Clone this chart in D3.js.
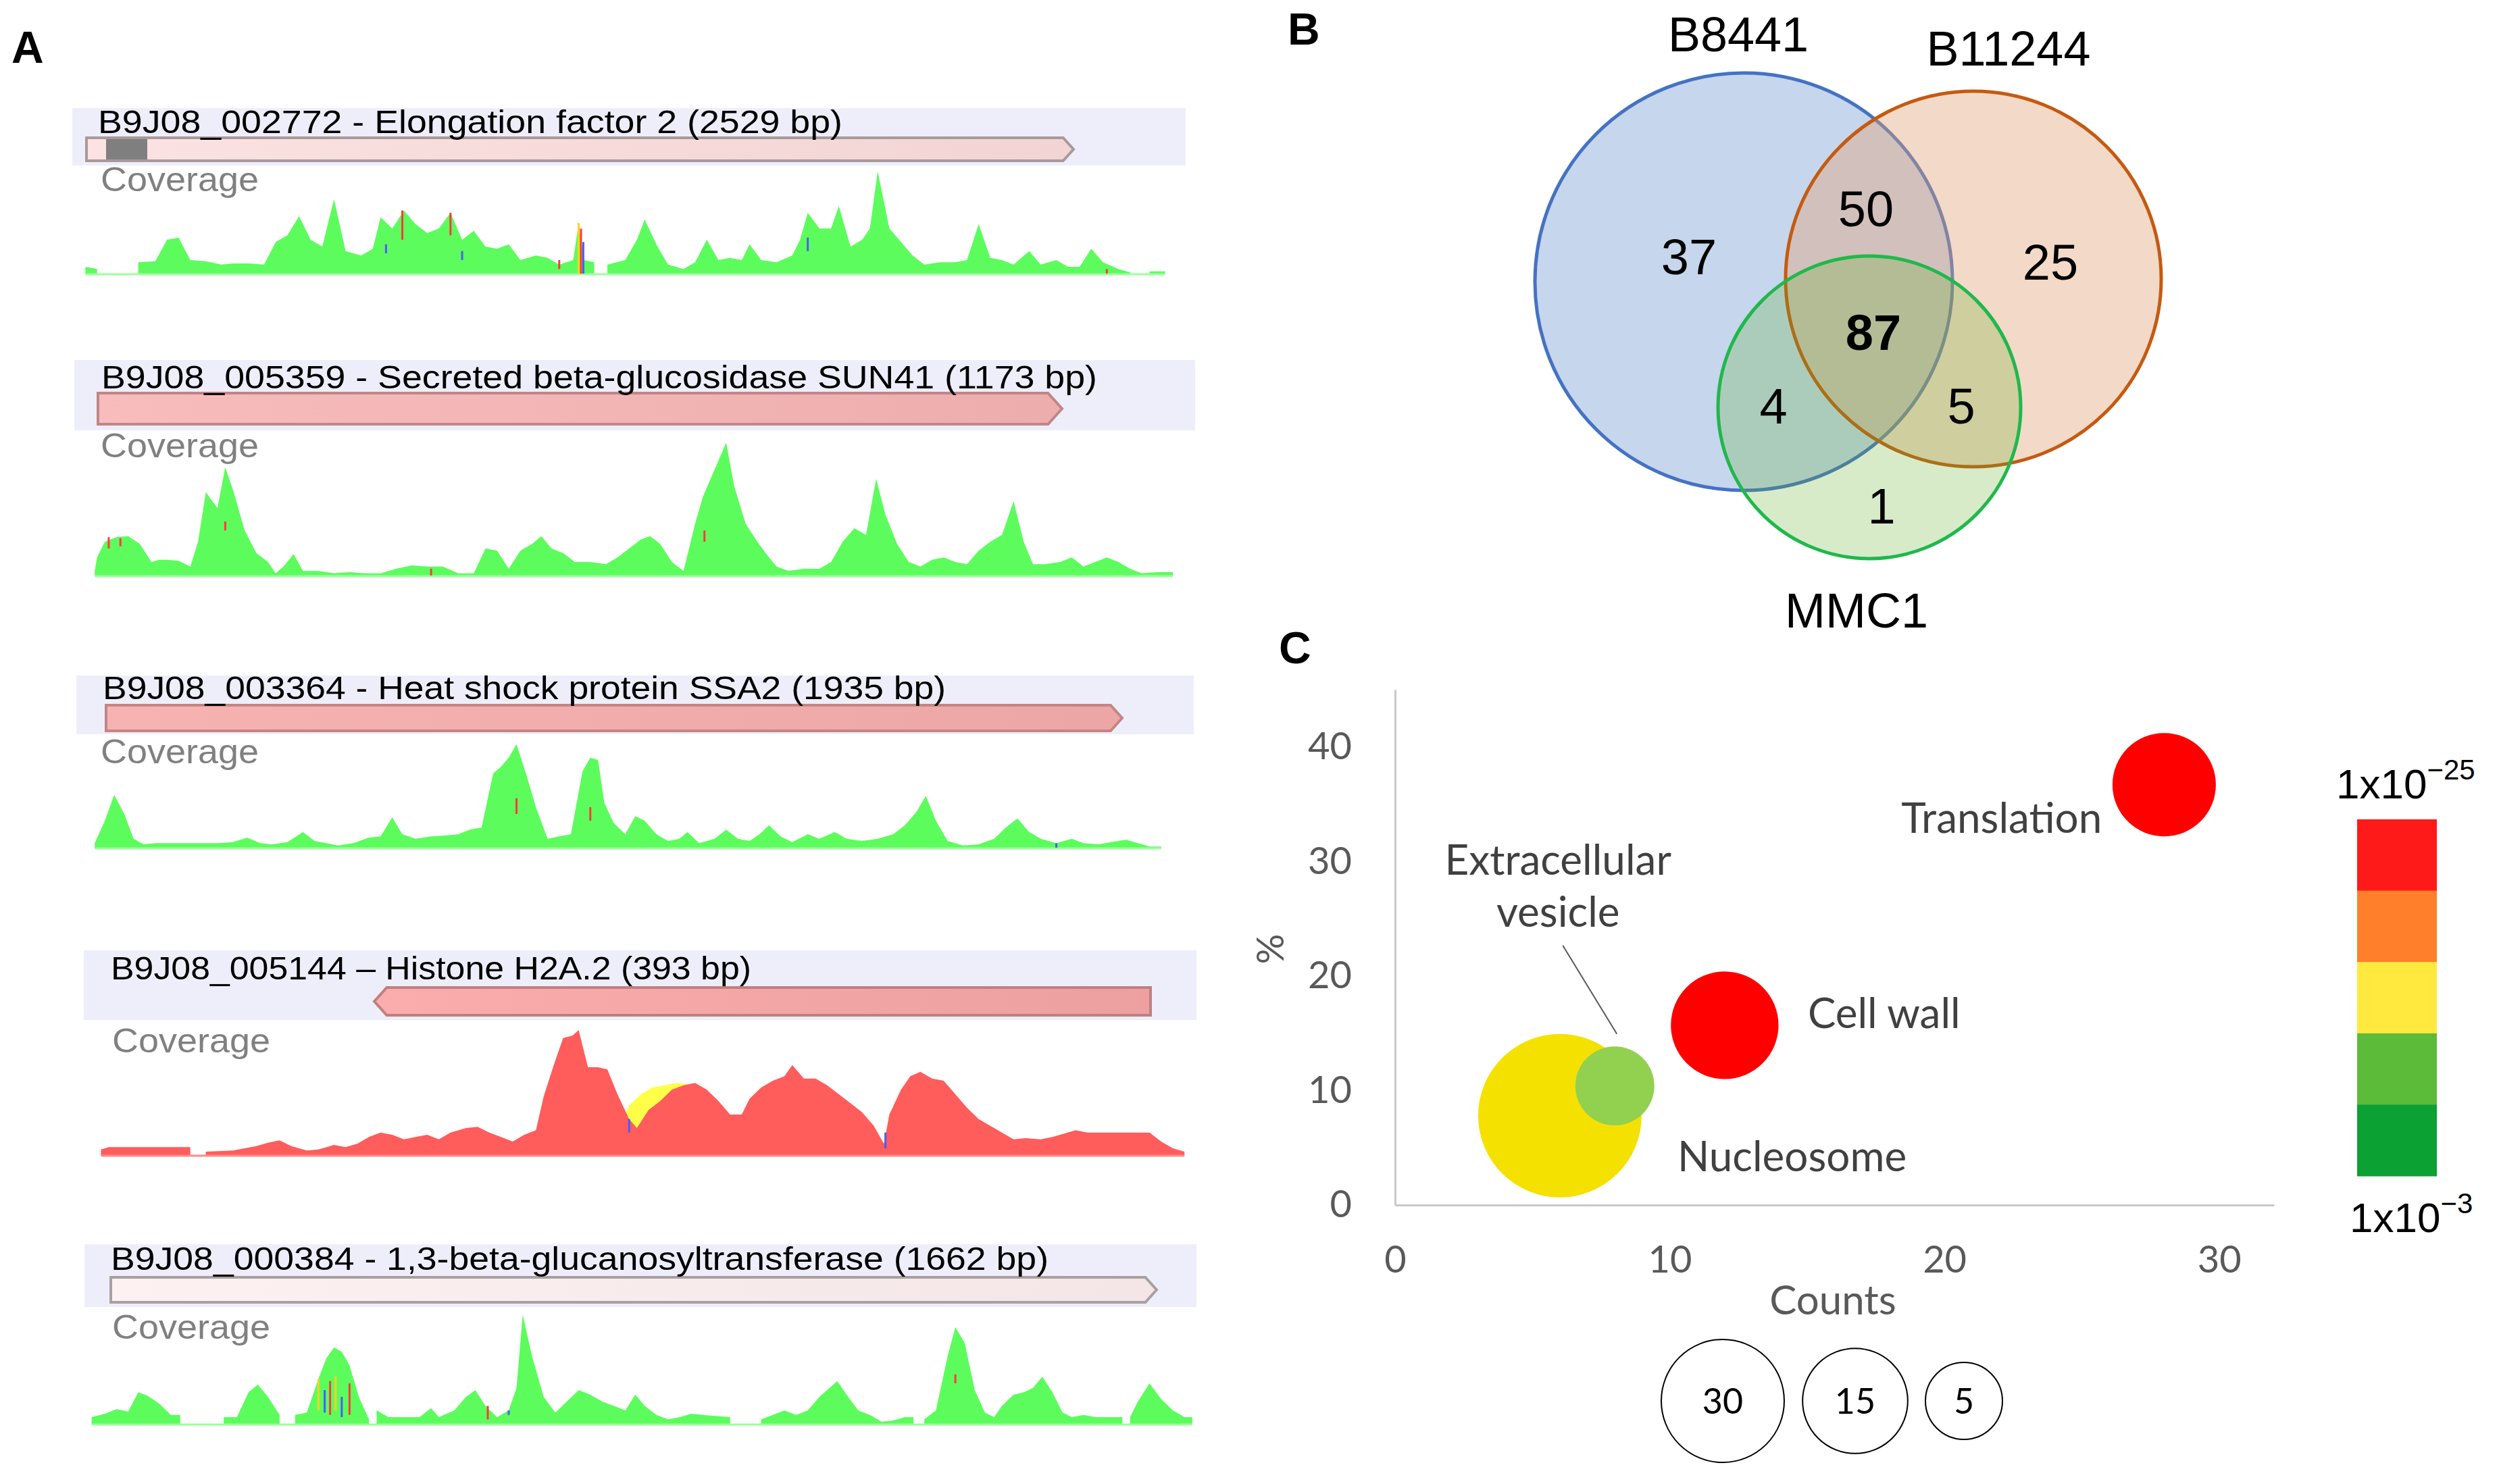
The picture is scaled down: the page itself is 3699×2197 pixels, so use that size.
<!DOCTYPE html>
<html>
<head>
<meta charset="utf-8">
<script src="https://cdn.jsdelivr.net/npm/d3@7"></script>
<style>
  body { margin: 0; background: #fff; }
  svg { display: block; }
</style>
</head>
<body>
<svg id="fig" width="3699" height="2197"></svg>
<script>
// ---------- data : panel A (coverage, [position, depth]) ----------
var geneTitles = [
  'B9J08_002772 - Elongation factor 2 (2529 bp)',
  'B9J08_005359 - Secreted beta-glucosidase SUN41 (1173 bp)',
  'B9J08_003364 - Heat shock protein SSA2 (1935 bp)',
  'B9J08_005144 \u2013 Histone H2A.2 (393 bp)',
  'B9J08_000384 - 1,3-beta-glucanosyltransferase (1662 bp)'
];
var geneStrand = ['+', '+', '+', '-', '+'];

var cov1 = [[110,30],[125,20],[135,null],[178,50],[200,55],[215,150],[230,160],[245,60],[265,55],[285,40],[300,45],[320,45],[340,40],[355,140],[370,170],[385,255],[400,150],[415,120],[430,330],[445,100],[465,80],[480,110],[490,250],[505,200],[520,280],[535,220],[550,180],[565,200],[580,270],[595,150],[610,190],[625,120],[640,110],[655,130],[670,60],[690,80],[705,70],[720,40],[738,60],[745,225],[752,60],[765,50],[772,null],[782,40],[805,60],[820,150],[830,240],[845,130],[860,40],[880,20],[895,50],[910,150],[925,60],[940,70],[955,60],[965,130],[980,60],[1000,50],[1020,80],[1030,150],[1040,270],[1055,200],[1070,200],[1080,300],[1095,120],[1110,150],[1120,200],[1130,455],[1145,200],[1160,140],[1175,80],[1190,40],[1210,50],[1230,50],[1245,60],[1260,220],[1275,70],[1290,60],[1305,40],[1325,100],[1340,40],[1360,60],[1375,30],[1390,30],[1405,110],[1420,50],[1440,20],[1455,5],[1470,null],[1480,10],[1500,10]];

var cov2 = [[122,20],[125,80],[135,150],[150,170],[165,175],[180,140],[195,60],[205,70],[215,70],[230,65],[245,40],[255,150],[265,370],[280,300],[290,480],[300,380],[315,200],[330,100],[345,60],[355,10],[365,40],[378,95],[390,20],[410,20],[430,10],[450,15],[470,10],[490,10],[510,30],[530,45],[550,40],[570,40],[590,10],[610,10],[625,120],[640,110],[655,30],[670,110],[685,140],[697,175],[710,120],[725,100],[740,60],[760,60],[780,50],[795,80],[810,120],[825,160],[837,175],[850,140],[865,60],[880,20],[895,230],[905,350],[920,470],[935,590],[945,400],[960,230],[975,150],[990,80],[1000,40],[1015,20],[1035,30],[1055,30],[1070,60],[1085,150],[1100,210],[1115,180],[1128,430],[1140,270],[1155,140],[1170,60],[1185,40],[1200,70],[1215,80],[1230,60],[1245,50],[1260,110],[1275,150],[1290,180],[1305,330],[1318,150],[1330,50],[1345,50],[1365,60],[1380,80],[1395,40],[1410,60],[1425,80],[1440,60],[1455,30],[1470,10],[1490,15],[1510,15]];

var cov3 = [[122,20],[135,120],[147,235],[160,150],[172,40],[185,15],[200,20],[220,20],[240,20],[260,20],[280,20],[300,25],[318,45],[335,20],[350,15],[370,25],[390,70],[405,30],[420,20],[435,10],[455,20],[475,45],[490,50],[505,135],[518,60],[535,40],[555,50],[575,55],[590,60],[605,80],[620,90],[635,330],[645,360],[655,400],[665,460],[678,320],[690,180],[705,40],[720,50],[735,60],[750,340],[760,400],[770,390],[778,200],[790,110],[805,60],[818,140],[830,120],[845,60],[860,30],[875,40],[885,70],[900,20],[920,40],[935,80],[950,40],[965,30],[978,60],[990,100],[1005,50],[1020,25],[1040,60],[1055,40],[1075,70],[1090,40],[1110,30],[1130,40],[1150,60],[1165,100],[1180,160],[1192,230],[1205,120],[1220,30],[1240,10],[1260,15],[1280,40],[1295,90],[1310,130],[1325,70],[1340,40],[1360,20],[1380,40],[1395,20],[1415,15],[1430,25],[1450,35],[1465,20],[1480,5],[1495,5]];

var cov4 = [[130,25],[140,35],[160,35],[200,35],[245,35],[252,null],[265,15],[300,20],[330,40],[345,55],[360,65],[375,40],[395,20],[410,25],[430,45],[445,35],[460,50],[475,80],[490,100],[505,90],[520,70],[535,80],[550,90],[565,70],[580,100],[600,120],[615,125],[630,100],[645,80],[660,60],[675,90],[690,110],[700,260],[712,390],[725,520],[737,530],[745,555],[757,390],[770,390],[782,380],[795,270],[810,160],[820,120],[835,200],[850,240],[865,290],[880,310],[895,320],[910,290],[925,240],[940,180],[955,180],[965,250],[980,300],[995,330],[1010,350],[1020,400],[1035,340],[1050,340],[1065,310],[1080,270],[1095,230],[1110,190],[1125,130],[1138,50],[1145,180],[1160,290],[1172,350],[1185,370],[1200,340],[1215,330],[1230,270],[1245,210],[1260,160],[1275,130],[1290,100],[1305,70],[1320,75],[1340,70],[1355,80],[1370,95],[1385,110],[1400,100],[1420,100],[1440,100],[1460,100],[1480,100],[1495,60],[1510,30],[1525,15]];
var cov4Alt = [[800,150],[810,220],[825,270],[840,300],[855,310],[870,320],[885,315],[895,300]];

var cov5 = [[118,30],[135,45],[150,65],[165,55],[178,140],[190,125],[205,90],[220,40],[232,40],[236,null],[288,30],[305,30],[320,140],[332,175],[345,120],[360,40],[366,null],[380,40],[395,50],[410,200],[420,290],[430,340],[440,320],[450,260],[462,120],[475,20],[478,null],[485,60],[500,30],[520,30],[540,30],[555,70],[565,30],[585,60],[600,120],[612,150],[625,80],[640,30],[655,60],[665,160],[673,485],[685,300],[700,120],[715,50],[730,100],[745,150],[760,130],[775,100],[790,80],[805,60],[818,130],[830,80],[845,40],[860,20],[875,30],[890,45],[905,40],[940,30],[944,null],[980,20],[995,40],[1010,60],[1025,40],[1040,60],[1055,120],[1068,160],[1078,190],[1092,120],[1105,60],[1120,40],[1135,10],[1150,15],[1165,30],[1176,30],[1180,null],[1190,20],[1205,60],[1220,300],[1230,430],[1242,360],[1255,150],[1268,50],[1280,30],[1290,80],[1305,130],[1318,140],[1330,160],[1342,210],[1355,140],[1368,50],[1380,30],[1395,40],[1410,30],[1445,30],[1448,null],[1455,30],[1465,100],[1480,180],[1495,110],[1510,60],[1525,30],[1535,30]];

// mismatches: [track, position, depth from, depth to, base colour]
var mismatches = [
  [0,745,0,225,'#ffd21f'],[0,748,0,200,'#ff3b3b'],[0,751,0,140,'#4a5cff'],[0,518,150,280,'#ff3b3b'],
  [0,580,170,270,'#ff3b3b'],[0,497,90,130,'#4a5cff'],[0,595,60,100,'#4a5cff'],[0,720,20,60,'#ff3b3b'],
  [0,1040,100,160,'#4a5cff'],[0,1425,0,20,'#ff3b3b'],
  [1,140,120,170,'#ff3b3b'],[1,155,130,165,'#ff3b3b'],[1,290,200,240,'#ff3b3b'],[1,555,0,30,'#ff3b3b'],[1,907,150,200,'#ff3b3b'],
  [2,665,150,220,'#ff3b3b'],[2,760,120,180,'#ff3b3b'],[2,1360,0,20,'#4a5cff'],
  [3,1140,30,100,'#4a5cff'],[3,810,100,160,'#4a5cff'],
  [4,410,60,200,'#ffd21f'],[4,418,50,150,'#4a5cff'],[4,425,40,190,'#ff3b3b'],[4,432,60,210,'#ffd21f'],
  [4,440,30,120,'#4a5cff'],[4,450,40,180,'#ff3b3b'],[4,628,20,80,'#ff3b3b'],[4,655,40,60,'#4a5cff'],[4,1230,180,220,'#ff3b3b']
];

// ---------- data : panel B ----------
var vennSets = ['B8441', 'B11244', 'MMC1'];
var vennRegions = ['37', '50', '25', '87', '4', '5', '1'];

// ---------- data : panel C ----------
var termNames = ['Translation', 'Cell wall', 'Nucleosome', 'Extracellular vesicle'];
var termCounts = [28, 12, 6, 8];
var termPercent = [36.7, 15.7, 7.8, 10.4];
var termSize = [12, 13, 30, 7];
var termColors = ['#ff0000', '#ff0000', '#f5e100', '#92d050'];
var xTicks = [0, 10, 20, 30];
var yTicks = [0, 10, 20, 30, 40];
var sizeLegend = [30, 15, 5];
var pvalColors = ['#ff1a1a', '#ff7f2a', '#ffe93f', '#5cbb38', '#0ba133'];
var pvalLabels = [['1x10', '\u221225'], ['1x10', '\u22123']];

// ---------- layout ----------
var W = 3699, H = 2197;
var ARIAL = '"Liberation Sans", Arial, sans-serif';
var CALI = 'Lato, "Open Sans", sans-serif';
var covs = [cov1, cov2, cov3, cov4, cov5];

var tracks = [
  {band:[107,160,1755,245], tx:145, ty:197, tw:1102, a:[128,1589,204,238], fill:['#fce2e2','#f2d4d4'], stroke:'#a89a9a', box:[157,218], cy:283, cx:149, base:405, cov:'#5dfc5d'},
  {band:[110,533,1769,637], tx:150, ty:575, tw:1474, a:[145,1572,582,628], fill:['#f8bcbc','#eeadad'], stroke:'#c08686', cy:677, cx:149, base:852, cov:'#5dfc5d'},
  {band:[113,1000,1767,1087], tx:152, ty:1035, tw:1248, a:[157,1661,1044,1082], fill:['#f7b2b2','#eca6a6'], stroke:'#c48585', cy:1130, cx:149, base:1255, cov:'#5dfc5d'},
  {band:[124,1407,1771,1510], tx:164, ty:1450, tw:948, a:[554,1703,1462,1503], fill:['#fbacac','#eca0a0'], stroke:'#c07f7f', cy:1558, cx:166, base:1710, cov:'#ff5c5c'},
  {band:[125,1842,1771,1935], tx:164, ty:1880, tw:1388, a:[164,1712,1891,1928], fill:['#fdf1f1','#f4e6e6'], stroke:'#a8a0a0', cy:1982, cx:166, base:2108, cov:'#5dfc5d'}
];

var svg = d3.select('#fig');
var defs = svg.append('defs');
svg.append('rect').attr('width', W).attr('height', H).attr('fill', '#fff');

// panel letters
svg.selectAll('.letter')
  .data([['A',17,93],['B',1906,66],['C',1893,982]])
  .enter().append('text')
  .attr('x', d => d[1]).attr('y', d => d[2])
  .attr('font-family', ARIAL).attr('font-weight', 'bold').attr('font-size', 66)
  .text(d => d[0]);

// ---------- panel A ----------
var posX = d3.scaleLinear().domain([0, 1550]).range([0, 1782]);

tracks.forEach((t, i) => {
  var g = svg.append('g');
  g.append('rect')
    .attr('x', t.band[0]).attr('y', t.band[1])
    .attr('width', t.band[2] - t.band[0]).attr('height', t.band[3] - t.band[1])
    .attr('fill', '#eeeefb');

  var grad = defs.append('linearGradient').attr('id', 'gg' + i);
  grad.append('stop').attr('offset', '0%').attr('stop-color', t.fill[0]);
  grad.append('stop').attr('offset', '100%').attr('stop-color', t.fill[1]);

  var x0 = t.a[0], x1 = t.a[1], y0 = t.a[2], y1 = t.a[3], ym = (y0 + y1) / 2, tip = (y1 - y0) * 0.45;
  var p = d3.path();
  if (geneStrand[i] === '+') {
    p.moveTo(x0, y0); p.lineTo(x1 - tip, y0); p.lineTo(x1, ym); p.lineTo(x1 - tip, y1); p.lineTo(x0, y1);
  } else {
    p.moveTo(x1, y0); p.lineTo(x0 + tip, y0); p.lineTo(x0, ym); p.lineTo(x0 + tip, y1); p.lineTo(x1, y1);
  }
  p.closePath();
  g.append('path').attr('d', p.toString())
    .attr('fill', 'url(#gg' + i + ')').attr('stroke', t.stroke).attr('stroke-width', 4);
  if (t.box) {
    g.append('rect').attr('x', t.box[0]).attr('y', y0 + 2)
      .attr('width', t.box[1] - t.box[0]).attr('height', y1 - y0 - 4).attr('fill', '#7f7f7f');
  }

  g.append('text').attr('x', t.tx).attr('y', t.ty)
    .attr('font-family', ARIAL).attr('font-size', 48)
    .attr('textLength', t.tw).attr('lengthAdjust', 'spacingAndGlyphs')
    .text(geneTitles[i]);
  g.append('text').attr('x', t.cx).attr('y', t.cy)
    .attr('font-family', ARIAL).attr('font-size', 50).attr('fill', '#808080')
    .attr('textLength', 234).attr('lengthAdjust', 'spacingAndGlyphs')
    .text('Coverage');

  var depth = d3.scaleLinear().domain([0, 300]).range([t.base, t.base - 100]);
  var area = d3.area()
    .defined(d => d[1] !== null)
    .x(d => posX(d[0]))
    .y0(t.base)
    .y1(d => depth(d[1]));

  if (i === 3) {
    g.append('path').datum(cov4Alt).attr('d', area).attr('fill', '#ffff4a');
  }
  g.append('path').datum(covs[i]).attr('d', area).attr('fill', t.cov);
  g.append('line')
    .attr('x1', posX(covs[i][0][0])).attr('x2', posX(covs[i][covs[i].length - 1][0]))
    .attr('y1', t.base + 1).attr('y2', t.base + 1)
    .attr('stroke', i === 3 ? '#ff8a8a' : '#9dff9d').attr('stroke-width', 3);

  g.selectAll('.mm')
    .data(mismatches.filter(m => m[0] === i))
    .enter().append('rect')
    .attr('x', m => posX(m[1]) - 1.5).attr('width', 3)
    .attr('y', m => depth(m[3])).attr('height', m => depth(m[2]) - depth(m[3]))
    .attr('fill', m => m[4]);
});

// ---------- panel B : Venn ----------
var vennCircles = [
  {cx:2581, cy:417, r:309, fill:'#c6d6ec', op:1, stroke:'#4472c4'},
  {cx:2921, cy:413, r:278, fill:'#e1a073', op:0.4, stroke:'#c55a11'},
  {cx:2767, cy:603, r:224, fill:'#60b028', op:0.25, stroke:'#1fb84c'}
];
var vg = svg.append('g');
vg.selectAll('.vc')
  .data(vennCircles)
  .enter().append('circle')
  .attr('cx', d => d.cx).attr('cy', d => d.cy).attr('r', d => d.r)
  .attr('fill', d => d.fill).attr('fill-opacity', d => d.op)
  .attr('stroke', d => d.stroke).attr('stroke-width', 5);

var vennLabelPos = [[2573,76],[2973,97],[2748,929]];
vg.selectAll('.vl')
  .data(vennSets)
  .enter().append('text')
  .attr('x', (d, i) => vennLabelPos[i][0]).attr('y', (d, i) => vennLabelPos[i][1])
  .attr('text-anchor', 'middle')
  .attr('font-family', ARIAL).attr('font-size', 72)
  .text(d => d);

var regionPos = [[2500,379],[2762,308],[3035,387],[2773,491],[2625,600],[2903,600],[2785,748]];
vg.selectAll('.vn')
  .data(vennRegions)
  .enter().append('text')
  .attr('x', (d, i) => regionPos[i][0]).attr('y', (d, i) => regionPos[i][1])
  .attr('dy', '0.36em')
  .attr('text-anchor', 'middle')
  .attr('font-family', ARIAL).attr('font-size', 74)
  .attr('font-weight', (d, i) => i === 3 ? 'bold' : 'normal')
  .text(d => d);

// ---------- panel C : bubble chart ----------
var cg = svg.append('g');
var x = d3.scaleLinear().domain([0, 32]).range([2065, 3366]);
var y = d3.scaleLinear().domain([0, 45]).range([1784, 1021]);
var r = d3.scaleSqrt().domain([0, 30]).range([0, 121]);

var xAxis = cg.append('g').attr('transform', 'translate(0,' + y(0) + ')')
  .call(d3.axisBottom(x).tickValues(xTicks).tickSize(0).tickPadding(60));
var yAxis = cg.append('g').attr('transform', 'translate(' + x(0) + ',0)')
  .call(d3.axisLeft(y).tickValues(yTicks).tickSize(0).tickPadding(64));
[xAxis, yAxis].forEach(a => {
  a.select('.domain').attr('stroke', '#c9c9c9').attr('stroke-width', 3);
  a.selectAll('text').attr('font-family', CALI).attr('font-size', 56).attr('fill', '#595959');
});

cg.append('text')
  .attr('x', 2713).attr('y', 1946)
  .attr('text-anchor', 'middle')
  .attr('font-family', CALI).attr('font-size', 60).attr('fill', '#595959')
  .text('Counts');
cg.append('text')
  .attr('transform', 'translate(1900,1405) rotate(-90)')
  .attr('text-anchor', 'middle')
  .attr('font-family', CALI).attr('font-size', 56).attr('fill', '#595959')
  .text('%');

var terms = termNames.map((n, i) => ({name:n, count:termCounts[i], pct:termPercent[i], size:termSize[i], color:termColors[i]}));
cg.selectAll('.bubble')
  .data(terms)
  .enter().append('circle')
  .attr('cx', d => x(d.count)).attr('cy', d => y(d.pct)).attr('r', d => r(d.size))
  .attr('fill', d => d.color);

// labels placed relative to their bubbles
var labelSpec = [
  {lines:['Translation'], dx:-92, dy:[71], anchor:'end'},
  {lines:['Cell wall'], dx:123, dy:[4], anchor:'start'},
  {lines:['Nucleosome'], dx:174, dy:[82], anchor:'start'},
  {lines:['Extracellular', 'vesicle'], dx:-84, dy:[-313, -236], anchor:'middle'}
];
terms.forEach((d, i) => {
  var s = labelSpec[i];
  s.lines.forEach((ln, j) => {
    cg.append('text')
      .attr('x', x(d.count) + s.dx).attr('y', y(d.pct) + s.dy[j])
      .attr('text-anchor', s.anchor)
      .attr('font-family', CALI).attr('font-size', 62).attr('fill', '#404040')
      .text(ln);
  });
});
var ev = terms[3];
cg.append('line')
  .attr('x1', x(ev.count) - 77).attr('y1', y(ev.pct) - 208)
  .attr('x2', x(ev.count) + 3).attr('y2', y(ev.pct) - 77)
  .attr('stroke', '#595959').attr('stroke-width', 2);

// bubble size legend
var legR = d3.scaleLog().domain([5, 30]).range([57, 91]);
var legX = [2550, 2746, 2907];
var lg = cg.selectAll('.sizeleg')
  .data(sizeLegend)
  .enter().append('g')
  .attr('transform', (d, i) => 'translate(' + legX[i] + ',2074)');
lg.append('circle').attr('r', d => legR(d)).attr('fill', 'none').attr('stroke', '#000').attr('stroke-width', 2);
lg.append('text').attr('dy', '0.36em').attr('text-anchor', 'middle')
  .attr('font-family', CALI).attr('font-size', 52).attr('fill', '#000')
  .text(d => d);

// p-value colour key
var band = d3.scaleBand().domain(pvalColors).range([1213, 1741]);
cg.selectAll('.pkey')
  .data(pvalColors)
  .enter().append('rect')
  .attr('x', 3489).attr('width', 118)
  .attr('y', d => band(d)).attr('height', band.bandwidth() + 0.5)
  .attr('fill', d => d);

var keyPos = [[3458,1182],[3478,1824]];
pvalLabels.forEach((lab, i) => {
  var t = cg.append('text')
    .attr('x', keyPos[i][0]).attr('y', keyPos[i][1])
    .attr('font-family', ARIAL).attr('font-size', 62).attr('fill', '#000');
  t.append('tspan').text(lab[0]);
  t.append('tspan').attr('font-size', 42).attr('dy', -28).text(lab[1]);
});
</script>
</body>
</html>
